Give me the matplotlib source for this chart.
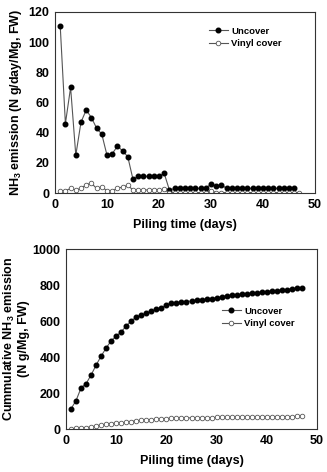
import matplotlib
matplotlib.use("Agg")
import matplotlib.pyplot as plt

plt.rcParams['font.family'] = ['Liberation Sans', 'DejaVu Sans']
plt.rcParams['font.weight'] = 'bold'
plt.rcParams['mathtext.default'] = 'regular'

# daily emission (top panel)
days_unc = list(range(1, 47))
daily_unc = [111, 46, 70, 25, 47, 55, 50, 43, 39, 25,
             26, 31, 28, 24, 9, 11, 11, 11, 11, 11,
             13, 2, 3, 3, 3, 3, 3, 3, 3, 6,
             4.5, 5.5, 3, 3, 3, 3, 3, 3, 3, 3,
             3, 3, 3, 3, 3, 3]
days_vin = list(range(1, 48))
daily_vin = [1.5, 1.5, 3, 2, 3, 5.5, 6.5, 3, 4, 1.5,
             1.5, 3, 4, 5, 2, 2, 2, 2, 2, 2,
             2.5, 0.3, 0.3, 0.3, 0.3, 0.3, 0.3, 0.3, 0.3, 1.5,
             0.3, 0.3, 0.3, 0.3, 0.3, 0.3, 0.3, 0.3, 0.3, 0.3,
             0.3, 0.3, 0.3, 0.3, 0.3, 0.3, 0.3]

# cumulative emission (bottom panel)
days_cum = list(range(1, 48))
cum_unc = [112, 158, 228, 252, 300, 355, 405, 450, 490, 515,
           540, 572, 600, 622, 632, 643, 655, 665, 675, 688,
           700, 702, 705, 708, 711, 714, 717, 720, 723, 729,
           733, 739, 742, 745, 748, 751, 754, 757, 760, 763,
           766, 769, 772, 775, 778, 781, 782]
cum_vin = [2, 3, 6, 8, 11, 17, 23, 26, 30, 32,
           34, 37, 41, 46, 48, 50, 52, 54, 56, 58,
           60, 60, 61, 61, 62, 62, 62, 63, 63, 64,
           64, 64, 65, 65, 65, 66, 66, 66, 67, 67,
           67, 68, 68, 69, 69, 70, 70]

fig = plt.figure(figsize=(3.27, 4.72), dpi=100)
ax1 = fig.add_axes([55/327, 1 - 193/472, 260/327, 181/472])
ax2 = fig.add_axes([66/327, 1 - 429/472, 251/327, 180/472])

line_kw = dict(color='#555555', lw=0.8, ms=3.3)

ax1.plot(days_unc, daily_unc, marker='o', mfc='black', mec='black', label='Uncover', **line_kw)
ax1.plot(days_vin, daily_vin, marker='o', mfc='white', mec='#555555', mew=0.6, label='Vinyl cover', **line_kw)
ax1.set_xlim(0, 50)
ax1.set_ylim(0, 120)
ax1.set_xticks(range(0, 51, 10))
ax1.set_yticks(range(0, 121, 20))
ax1.set_xlabel('Piling time (days)', fontsize=9, fontweight='bold', labelpad=6)
ax1.set_ylabel('NH$_3$ emission (N g/day/Mg, FW)', fontsize=9, fontweight='bold', labelpad=3)
ax1.legend(loc='upper left', bbox_to_anchor=(150/260, 0.94), frameon=False, fontsize=6.8,
           handlelength=2.0, handletextpad=0.4, borderaxespad=0, labelspacing=0.35)

ax2.plot(days_cum, cum_unc, marker='o', mfc='black', mec='black', label='Uncover', **line_kw)
ax2.plot(days_cum, cum_vin, marker='o', mfc='white', mec='#555555', mew=0.6, label='Vinyl cover', **line_kw)
ax2.set_xlim(0, 50)
ax2.set_ylim(0, 1000)
ax2.set_xticks(range(0, 51, 10))
ax2.set_yticks(range(0, 1001, 200))
ax2.set_xlabel('Piling time (days)', fontsize=9, fontweight='bold', labelpad=6)
ax2.set_ylabel('Cummulative NH$_3$ emission\n(N g/Mg, FW)', fontsize=9, fontweight='bold',
               labelpad=2, linespacing=1.1)
ax2.legend(loc='upper left', bbox_to_anchor=(152/251, 0.70), frameon=False, fontsize=6.8,
           handlelength=2.0, handletextpad=0.4, borderaxespad=0, labelspacing=0.35)

for ax in (ax1, ax2):
    ax.tick_params(direction='in', length=0, labelsize=9, pad=4)
    for lab in ax.get_xticklabels() + ax.get_yticklabels():
        lab.set_fontweight('bold')
    for sp in ax.spines.values():
        sp.set_linewidth(0.8)
        sp.set_color('#333333')

fig.savefig('out.png', dpi=100)
